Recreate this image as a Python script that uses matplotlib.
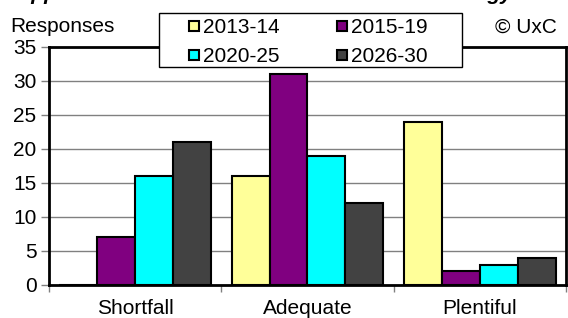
import matplotlib.pyplot as plt
import numpy as np
from matplotlib.lines import Line2D
from matplotlib.patches import Rectangle

plt.rcParams['font.family'] = ['Liberation Sans', 'DejaVu Sans']

categories = ['Shortfall', 'Adequate', 'Plentiful']
periods = ['2013-14', '2015-19', '2020-25', '2026-30']
v_2013_14 = [0, 16, 24]
v_2015_19 = [7, 31, 2]
v_2020_25 = [16, 19, 3]
v_2026_30 = [21, 12, 4]
colors = ['#FFFF99', '#800080', '#00FFFF', '#424242']

W, H = 568, 318
fig = plt.figure(figsize=(W / 100, H / 100), dpi=100)
ax = fig.add_axes([49 / W, 1 - 285 / H, 517 / W, 238 / H])

x = np.arange(len(categories))
w = 0.22
series = [v_2013_14, v_2015_19, v_2020_25, v_2026_30]
for i, vals in enumerate(series):
    ax.bar(x + (i - 1.5) * w, vals, w, color=colors[i], edgecolor='black',
           linewidth=1.5, zorder=3)

ax.set_xlim(-0.5, 2.5)
ax.set_ylim(0, 35)
ax.set_yticks(np.arange(0, 36, 5))
ax.yaxis.grid(True, color='#808080', linewidth=1, zorder=0)
ax.set_xticks(x)
ax.set_xticklabels(categories, fontsize=15)
ax.tick_params(axis='x', which='major', length=0, pad=10)
ax.set_xticks([-0.5, 0.5, 1.5, 2.5], minor=True)
ax.tick_params(axis='x', which='minor', length=5, width=1, color='#808080')
ax.tick_params(axis='y', labelsize=15, length=6, width=1, color='#808080', pad=3)
for s in ax.spines.values():
    s.set_linewidth(2)
    s.set_color('black')

fig.text(10 / W, 1 - 27 / H, 'Responses', fontsize=15, va='center', ha='left')
fig.text(557 / W, 1 - 27 / H, '© UxC', fontsize=15, va='center', ha='right')
# title is cut off at the top in the original, only descenders show
fig.text(0.465, 1 + 0.5 / H, 'Approach to Uranium Market Conditions Strategy',
         fontsize=15.2, fontweight='bold', fontstyle='italic', ha='center', va='baseline')

# legend box drawn by hand so the padding matches
box = Rectangle((159 / W, 1 - 67 / H), 303 / W, 54 / H, transform=fig.transFigure,
                facecolor='white', edgecolor='black', linewidth=1, zorder=5)
fig.patches.append(box)

# matplotlib fills legend columns first, so reorder to get row-wise layout
order = [0, 2, 1, 3]
handles = [Line2D([], [], linestyle='none', marker='s', markersize=6.5,
                  markerfacecolor=colors[i], markeredgecolor='black',
                  markeredgewidth=1.5) for i in order]
labels = [periods[i] for i in order]
leg = fig.legend(handles, labels, loc='upper left', ncol=2,
                 bbox_to_anchor=(168.5 / W, 1 - 18 / H), borderaxespad=0,
                 fontsize=15, handlelength=2.4, handletextpad=-0.745,
                 columnspacing=1.78, borderpad=0, labelspacing=0.48,
                 frameon=False)
leg.set_zorder(10)

fig.savefig('out.png', dpi=100)
